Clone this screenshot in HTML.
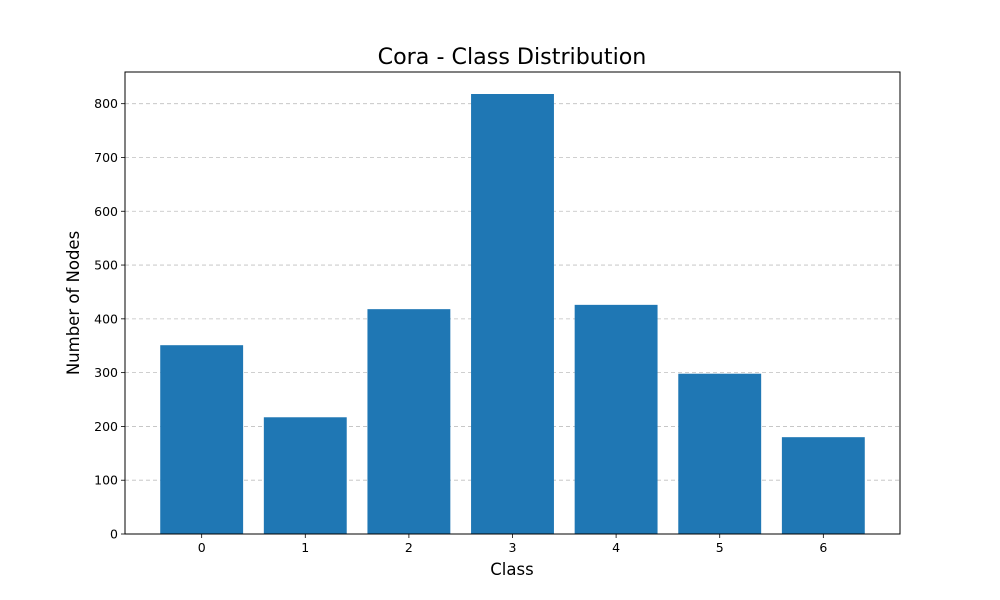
<!DOCTYPE html>
<html><head><meta charset="utf-8"><style>body{margin:0;background:#fff}svg{display:block;font-family:"DejaVu Sans","Liberation Sans",sans-serif}</style></head>
<body>
<svg id="chart" width="1000" height="600">
<rect x="0" y="0" width="1000" height="600" fill="#fff"/>
<text x="512" y="64" font-size="22.2" text-anchor="middle">Cora - Class Distribution</text>
<g id="grid"></g><g id="bars"></g><g id="axes"></g>
<text x="512" y="575" font-size="16.5" text-anchor="middle">Class</text>
<text transform="translate(79,303) rotate(-90)" font-size="16.5" text-anchor="middle">Number of Nodes</text>
</svg>
<script>
const categories=["0","1","2","3","4","5","6"];
const values=[351,217,418,818,426,298,180];
const yTicks=[0,100,200,300,400,500,600,700,800];
const L=125,R=900,T=72,B=534,NS="http://www.w3.org/2000/svg";
const ymax=Math.max(...values)*1.05;
const xmin=-0.4-0.05*(categories.length-1+0.8),xmax=categories.length-1+0.4+0.05*(categories.length-1+0.8);
const xs=v=>L+(v-xmin)/(xmax-xmin)*(R-L);
const ys=v=>B-v/ymax*(B-T);
function mk(t,a,p){const e=document.createElementNS(NS,t);for(const k in a)e.setAttribute(k,a[k]);p.appendChild(e);return e;}
const grid=document.getElementById('grid'),bars=document.getElementById('bars'),axes=document.getElementById('axes');
yTicks.forEach(v=>{const y=ys(v);
 const g=mk('line',{x1:L,x2:R,y1:y,y2:y,stroke:'#b0b0b0','stroke-width':0.8,'stroke-dasharray':'4,3',opacity:0.8},grid);
 
 
 mk('line',{x1:L-4,x2:L,y1:y,y2:y,stroke:'#000','stroke-width':0.8},axes);
 const t=mk('text',{x:L-7,y:y+4.5,'font-size':12.5,'text-anchor':'end'},axes);t.textContent=v;
 
 
});
categories.forEach((c,i)=>{const x=xs(i),w=xs(0.8)-xs(0);
 const r=mk('rect',{x:x-w/2,y:ys(values[i]),width:w,height:B-ys(values[i]),fill:'#1f77b4'},bars);
 
 
 mk('line',{x1:x,x2:x,y1:B,y2:B+4,stroke:'#000','stroke-width':0.8},axes);
 const t=mk('text',{x:x,y:B+18,'font-size':12.5,'text-anchor':'middle'},axes);t.textContent=c;
 
 
});
const f=mk('rect',{x:L,y:T,width:R-L,height:B-T,fill:'none',stroke:'#000','stroke-width':1},axes);


</script>
</body></html>
